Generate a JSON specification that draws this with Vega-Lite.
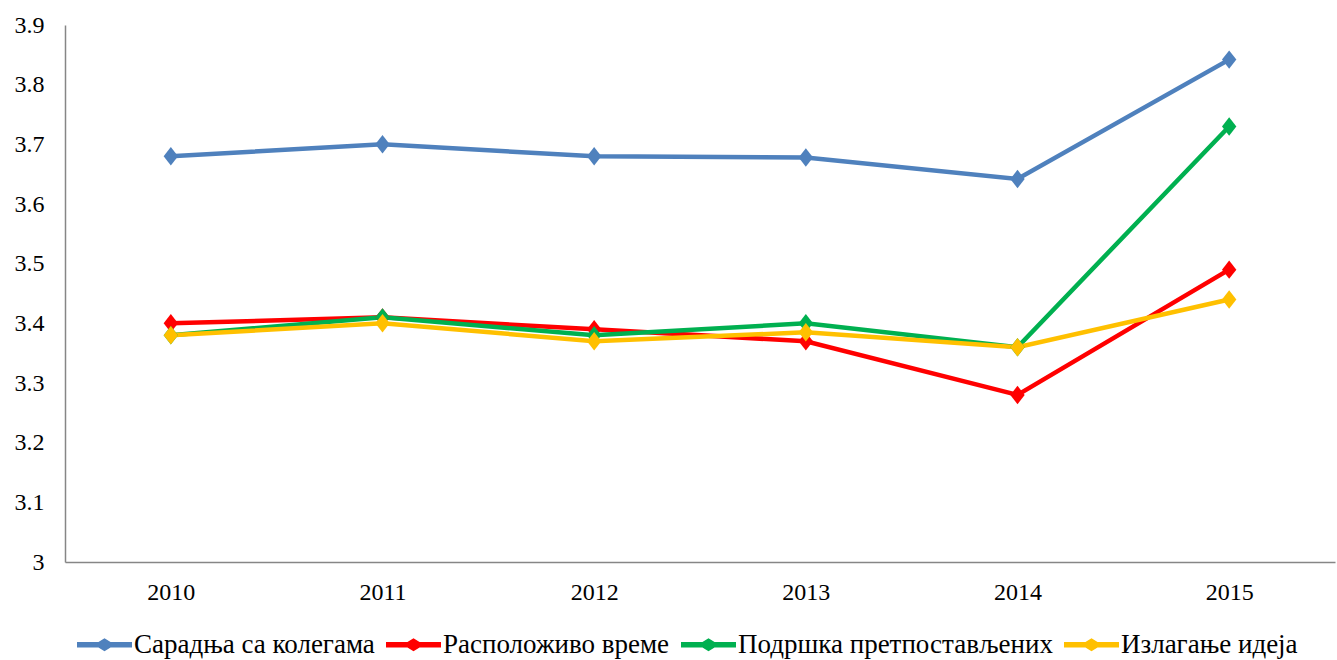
{
  "$schema": "https://vega.github.io/schema/vega-lite/v6.json",
  "autosize": {"type": "none"},
  "width": 1270,
  "height": 537,
  "padding": {"left": 65, "top": 25, "right": 2, "bottom": 98},
  "background": "white",
  "config": {
    "view": {"stroke": null},
    "font": "Liberation Serif",
    "axis": {"labelFont": "Liberation Serif", "labelFontSize": 24, "labelColor": "#000000", "domainColor": "#868686", "domainWidth": 1.5, "ticks": false, "grid": false, "title": null}
  },
  "data": {
    "values": [
      {"year": "2010", "series": "Сарадња са колегама", "value": 3.68},
      {"year": "2011", "series": "Сарадња са колегама", "value": 3.70},
      {"year": "2012", "series": "Сарадња са колегама", "value": 3.68},
      {"year": "2013", "series": "Сарадња са колегама", "value": 3.678},
      {"year": "2014", "series": "Сарадња са колегама", "value": 3.642},
      {"year": "2015", "series": "Сарадња са колегама", "value": 3.842},
      {"year": "2010", "series": "Расположиво време", "value": 3.40},
      {"year": "2011", "series": "Расположиво време", "value": 3.41},
      {"year": "2012", "series": "Расположиво време", "value": 3.39},
      {"year": "2013", "series": "Расположиво време", "value": 3.37},
      {"year": "2014", "series": "Расположиво време", "value": 3.28},
      {"year": "2015", "series": "Расположиво време", "value": 3.49},
      {"year": "2010", "series": "Подршка претпостављених", "value": 3.38},
      {"year": "2011", "series": "Подршка претпостављених", "value": 3.41},
      {"year": "2012", "series": "Подршка претпостављених", "value": 3.38},
      {"year": "2013", "series": "Подршка претпостављених", "value": 3.40},
      {"year": "2014", "series": "Подршка претпостављених", "value": 3.36},
      {"year": "2015", "series": "Подршка претпостављених", "value": 3.73},
      {"year": "2010", "series": "Излагање идеја", "value": 3.38},
      {"year": "2011", "series": "Излагање идеја", "value": 3.40},
      {"year": "2012", "series": "Излагање идеја", "value": 3.37},
      {"year": "2013", "series": "Излагање идеја", "value": 3.385},
      {"year": "2014", "series": "Излагање идеја", "value": 3.36},
      {"year": "2015", "series": "Излагање идеја", "value": 3.44}
    ]
  },
  "encoding": {
    "x": {"field": "year", "type": "ordinal", "scale": {"type": "point", "padding": 0.5}, "axis": {"labelAngle": 0, "labelPadding": 18}},
    "y": {"field": "value", "type": "quantitative", "scale": {"domain": [3, 3.9], "nice": false, "zero": false}, "axis": {"values": [3, 3.1, 3.2, 3.3, 3.4, 3.5, 3.6, 3.7, 3.8, 3.9], "format": ".1~f", "labelPadding": 21}},
    "color": {
      "field": "series", "type": "nominal",
      "scale": {"domain": ["Сарадња са колегама", "Расположиво време", "Подршка претпостављених", "Излагање идеја"], "range": ["#4F81BD", "#FF0000", "#00B050", "#FFC000"]},
      "legend": {
        "title": null, "orient": "none", "legendX": 12, "legendY": 592, "direction": "horizontal", "columns": 4,
        "symbolType": "M-1,-0.1L-0.22,-0.1L0,-0.24L0.22,-0.1L1,-0.1L1,0.1L0.22,0.1L0,0.24L-0.22,0.1L-1,0.1Z",
        "symbolSize": 3025, "symbolStrokeWidth": 0, "symbolOpacity": 1,
        "labelFont": "Liberation Serif", "labelFontSize": 27, "labelColor": "#000000", "labelOffset": 2, "columnPadding": 11, "labelLimit": 500
      }
    }
  },
  "layer": [
    {"mark": {"type": "line", "strokeWidth": 4.5}},
    {"mark": {"type": "point", "shape": "M0,-1L0.78,0L0,1L-0.78,0Z", "filled": true, "size": 340, "opacity": 1}}
  ]
}
